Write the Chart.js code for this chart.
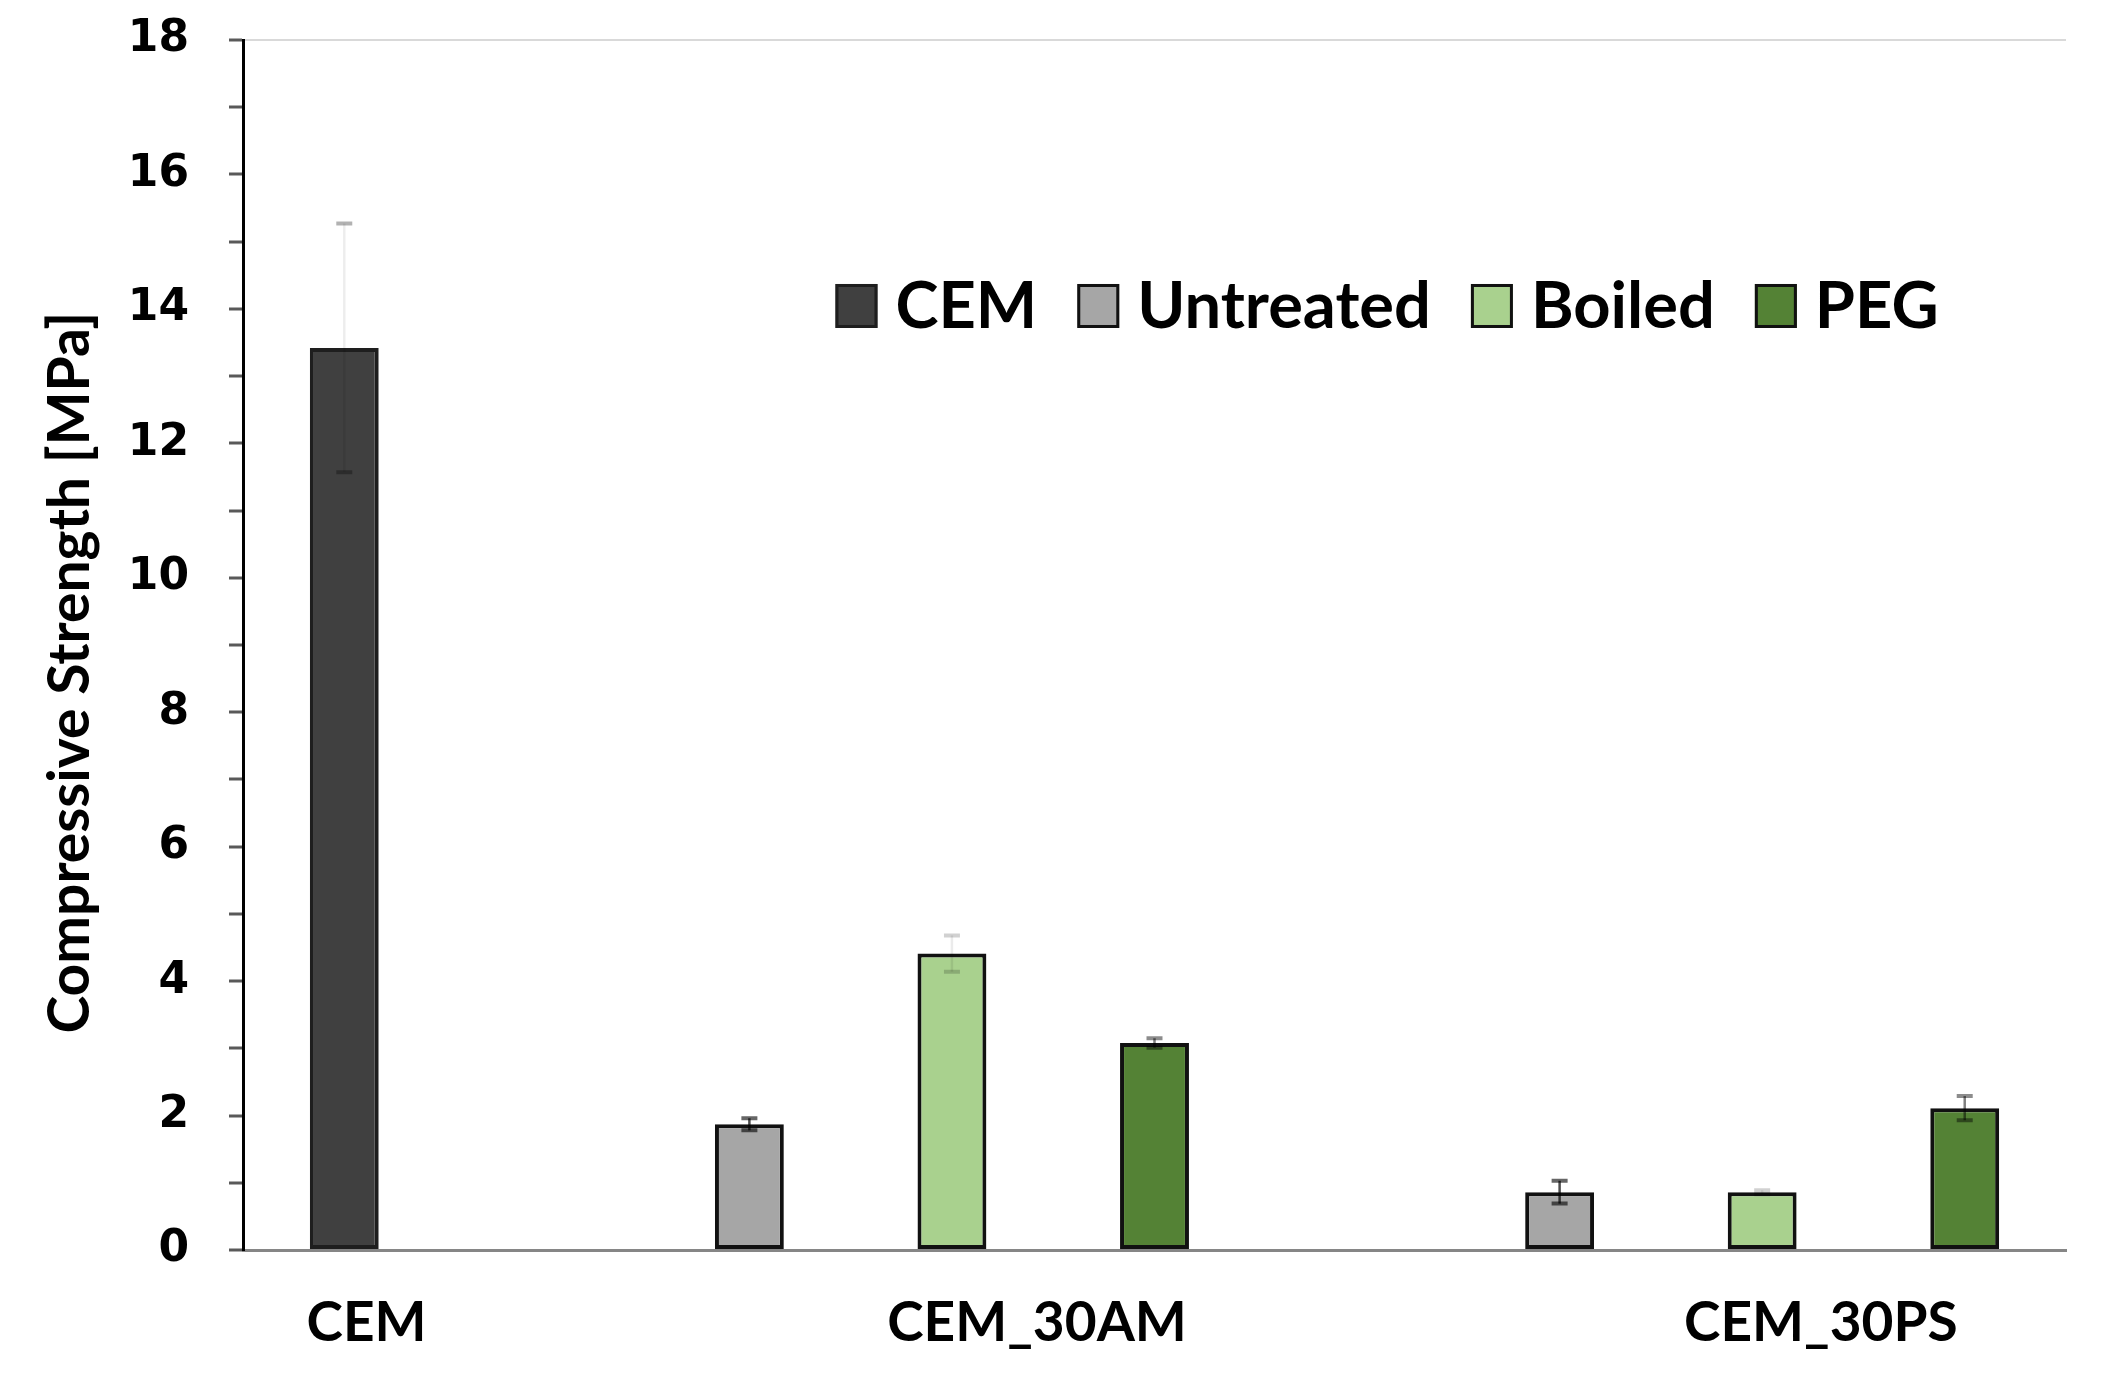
<!DOCTYPE html>
<html>
<head>
<meta charset="utf-8">
<title>Compressive Strength</title>
<script src="https://cdn.jsdelivr.net/npm/chart.js@4.4.0/dist/chart.umd.min.js"></script>
<style>
  html, body { margin: 0; padding: 0; background: #fff; }
</style>
</head>
<body>
<canvas id="chart" width="2121" height="1378"></canvas>
<script>
// one x slot per bar, like the original sheet (empty slots between groups)
const slots = ['CEM', '', 'AM Untreated', 'AM Boiled', 'AM PEG', '', 'PS Untreated', 'PS Boiled', 'PS PEG'];
const groupLabels = ['CEM', 'CEM_30AM', 'CEM_30PS'];
const groupLabelPos = [0.11, 3.42, 7.29];   // in slot units

const seriesNames = ['CEM', 'Untreated', 'Boiled', 'PEG'];
const cemValues       = [13.42, null, null, null, null, null, null, null, null];
const untreatedValues = [null, null, 1.87, null, null, null, 0.86, null, null];
const boiledValues    = [null, null, null, 4.41, null, null, null, 0.86, null];
const pegValues       = [null, null, null, null, 3.08, null, null, null, 2.11];

const cemErrors       = [1.85, null, null, null, null, null, null, null, null];
const untreatedErrors = [null, null, 0.09, null, null, null, 0.17, null, null];
const boiledErrors    = [null, null, null, 0.27, null, null, null, 0.03, null];
const pegErrors       = [null, null, null, null, 0.07, null, null, null, 0.18];

const yTicks = { min: 0, max: 18, step: 1 };

const fills   = ['#404040', '#a6a6a6', '#a9d18e', '#548235'];
const borders = ['#1e1e1e', '#111111', '#111111', '#111111'];
const errAlpha = [ { line: 0.07, cap: 0.3 }, { line: 0.7, cap: 0.6 }, { line: 0.08, cap: 0.18 }, { line: 0.5, cap: 0.45 } ];

const labelFont = 'Lato';

const errorBars = {
  id: 'errorBars',
  afterDatasetsDraw(chart) {
    const ctx = chart.ctx;
    const y = chart.scales.y;
    chart.data.datasets.forEach((ds, i) => {
      const meta = chart.getDatasetMeta(i);
      meta.data.forEach((bar, j) => {
        const v = ds.data[j], e = ds.errors[j];
        if (v == null || !e) return;
        const top = y.getPixelForValue(v + e);
        const bottom = y.getPixelForValue(v - e);
        const a = errAlpha[i];
        ctx.save();
        ctx.strokeStyle = 'rgba(0,0,0,' + a.line + ')';
        ctx.lineWidth = 2.5;
        ctx.beginPath();
        ctx.moveTo(bar.x, top);
        ctx.lineTo(bar.x, bottom);
        ctx.stroke();
        ctx.strokeStyle = 'rgba(0,0,0,' + a.cap + ')';
        ctx.lineWidth = 4;
        ctx.beginPath();
        ctx.moveTo(bar.x - 8, top);
        ctx.lineTo(bar.x + 8, top);
        ctx.moveTo(bar.x - 8, bottom);
        ctx.lineTo(bar.x + 8, bottom);
        ctx.stroke();
        ctx.restore();
      });
    });
  }
};

// legend sits inside the plot, upper right
const insideLegend = {
  id: 'insideLegend',
  afterDraw(chart) {
    const ctx = chart.ctx;
    const ca = chart.chartArea;
    let x = ca.left + 0.325 * (ca.right - ca.left);
    const cy = ca.top + 0.219 * (ca.bottom - ca.top);
    const box = 42;
    ctx.save();
    ctx.font = 'bold 65px ' + labelFont;
    ctx.textBaseline = 'middle';
    ctx.fillStyle = '#000';
    chart.data.datasets.forEach((ds, i) => {
      ctx.fillStyle = ds.backgroundColor;
      ctx.fillRect(x, cy - box / 2, box, box + 2);
      ctx.strokeStyle = ds.borderColor;
      ctx.lineWidth = 3;
      ctx.strokeRect(x + 1.5, cy - box / 2 + 1.5, box - 3, box - 1);
      x += box + 18;
      ctx.fillStyle = '#000';
      ctx.fillText(ds.label, x, cy + 2);
      x += ctx.measureText(ds.label).width + 40;
    });
    ctx.restore();
  }
};

function makeSet(i, values, errors) {
  return {
    label: seriesNames[i],
    data: values,
    errors: errors,
    backgroundColor: fills[i],
    borderColor: borders[i],
    borderWidth: 4,
    borderSkipped: false,
    barPercentage: 0.34,
    categoryPercentage: 1.0,
    skipNull: true
  };
}

new Chart(document.getElementById('chart'), {
  type: 'bar',
  data: {
    labels: slots,
    datasets: [
      makeSet(0, cemValues, cemErrors),
      makeSet(1, untreatedValues, untreatedErrors),
      makeSet(2, boiledValues, boiledErrors),
      makeSet(3, pegValues, pegErrors)
    ]
  },
  options: {
    responsive: false,
    animation: false,
    devicePixelRatio: 1,
    layout: { padding: { top: 40, right: 55, left: 0, bottom: 0 } },
    plugins: {
      legend: { display: false },
      tooltip: { enabled: false }
    },
    scales: {
      x: {
        ticks: { display: false },
        grid: { display: false, drawTicks: false },
        border: { color: '#868686', width: 3 },
        afterFit: s => { s.height = 0; }
      },
      x2: {
        type: 'linear',
        position: 'bottom',
        offset: false,
        min: -0.5,
        max: 8.5,
        afterBuildTicks: axis => { axis.ticks = groupLabelPos.map(v => ({ value: v })); },
        ticks: {
          autoSkip: false,
          maxRotation: 0,
          callback: (v, i) => groupLabels[i],
          font: { family: labelFont, weight: 'bold', size: 55 },
          color: '#000',
          padding: 40
        },
        grid: { display: false, drawTicks: false, offset: false },
        border: { display: false },
        afterFit: s => { s.height = 128; }
      },
      y: {
        min: yTicks.min,
        max: yTicks.max,
        ticks: {
          stepSize: yTicks.step,
          autoSkip: false,
          callback: v => (v % 2 === 0 ? v : ''),
          font: { family: 'DejaVu Sans', weight: 'bold', size: 44 },
          color: '#000',
          padding: 40
        },
        grid: {
          color: c => (c.tick && c.tick.value === yTicks.max ? '#d9d9d9' : 'rgba(0,0,0,0)'),
          tickColor: '#595959',
          tickLength: 14,
          lineWidth: 2,
          tickWidth: 3
        },
        border: { color: '#000', width: 3 },
        title: {
          display: true,
          // trailing spaces nudge the rotated title a little lower, as in the original
          text: 'Compressive Strength [MPa]    ',
          font: { family: labelFont, weight: 'bold', size: 57 },
          color: '#000',
          padding: { top: 36, bottom: 0 }
        },
        afterFit: s => {
          s.width = 243;
          s.paddingTop = 0;   // let layout.padding decide where 18 sits
        }
      }
    }
  },
  plugins: [errorBars, insideLegend]
});
</script>
</body>
</html>
